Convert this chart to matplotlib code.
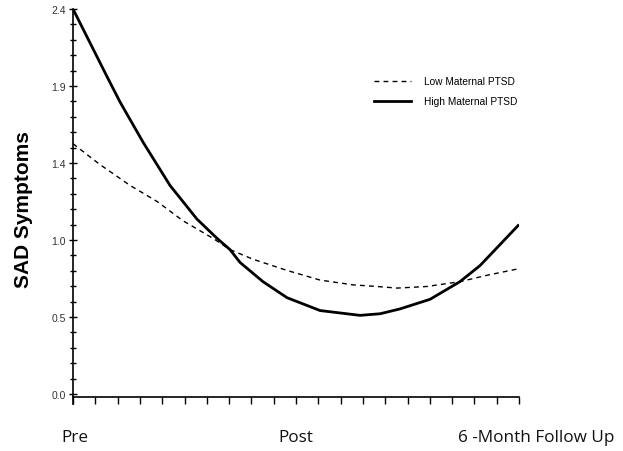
import matplotlib
matplotlib.use("Agg")
import matplotlib.pyplot as plt
import matplotlib.transforms as mtransforms
import numpy as np

# Time axis: 0 = Pre, 1 = Post, 2 = 6-Month Follow Up
high_x = [0.0, 0.076, 0.152, 0.211, 0.314, 0.435, 0.556, 0.646, 0.704, 0.749,
          0.852, 0.960, 1.108, 1.287, 1.377, 1.466, 1.601, 1.735, 1.825, 1.996]
high_y = [2.40, 2.19, 1.98, 1.82, 1.57, 1.30, 1.09, 0.97, 0.90, 0.82,
          0.70, 0.60, 0.52, 0.49, 0.50, 0.53, 0.59, 0.70, 0.80, 1.05]

low_x = [0.0, 0.121, 0.256, 0.377, 0.493, 0.628, 0.704, 0.807, 0.960, 1.108,
         1.256, 1.363, 1.453, 1.587, 1.735, 1.857, 1.996]
low_y = [1.56, 1.43, 1.30, 1.20, 1.08, 0.97, 0.90, 0.84, 0.77, 0.71,
         0.68, 0.67, 0.66, 0.67, 0.70, 0.74, 0.78]

x_ticks = [0, 1, 2]
x_labels = ["Pre", "Post", "6 -Month Follow Up"]
y_ticks = [0.0, 0.48, 0.96, 1.44, 1.92, 2.4]
y_labels = ["0.0", "0.5", "1.0", "1.4", "1.9", "2.4"]
series_labels = ["Low Maternal PTSD", "High Maternal PTSD"]

fig = plt.figure(figsize=(6.23, 4.52), dpi=100)
ax = fig.add_axes([73/623, (452-398)/452, 446/623, 388/452])

ax.plot(low_x, low_y, color="black", lw=1.0, linestyle=(0, (3.5, 3)),
        label=series_labels[0])
ax.plot(high_x, high_y, color="black", lw=2.0, label=series_labels[1])

ax.set_xlim(0, 2)
ax.set_ylim(-0.019, 2.4)

for s in ["top", "right"]:
    ax.spines[s].set_visible(False)
ax.spines["left"].set_linewidth(1.2)
ax.spines["bottom"].set_linewidth(1.2)
ax.spines["left"].set_bounds(-0.065, 2.4)

ax.set_yticks(y_ticks)
ax.set_yticklabels(y_labels, fontsize=7.5, color="#333333",
                   family=["Liberation Sans"])
ax.set_yticks(np.arange(0, 2.4001, 0.096), minor=True)
ax.tick_params(axis="y", which="major", direction="inout", length=6, width=1, pad=2)
ax.tick_params(axis="y", which="minor", direction="inout", length=4, width=1)

ax.set_xticks(x_ticks)
ax.set_xticklabels(x_labels, fontsize=12.3, family=["Open Sans"], color="#111111")
ax.set_xticks(np.arange(0, 2.0001, 0.1), minor=True)
ax.tick_params(axis="x", which="major", direction="out", length=5, width=1, pad=18)
ax.tick_params(axis="x", which="minor", direction="out", length=5, width=1)

lbls = ax.get_xticklabels()
lbls[0].set_transform(lbls[0].get_transform() +
                      mtransforms.ScaledTranslation(2/100, 0, fig.dpi_scale_trans))
lbls[2].set_transform(lbls[2].get_transform() +
                      mtransforms.ScaledTranslation(17/100, 0, fig.dpi_scale_trans))

ax.set_ylabel("SAD Symptoms", fontsize=15, fontweight="bold",
              family=["Liberation Sans"])
ax.yaxis.set_label_coords(-40/446, (395-207)/388)

leg = ax.legend(loc="upper left", bbox_to_anchor=(292/446, (398-68)/388),
                frameon=False, prop={"family": "Liberation Sans", "size": 7.3},
                handlelength=3.6, handletextpad=1.3, labelspacing=1.0)

fig.savefig("out.png", dpi=100)
